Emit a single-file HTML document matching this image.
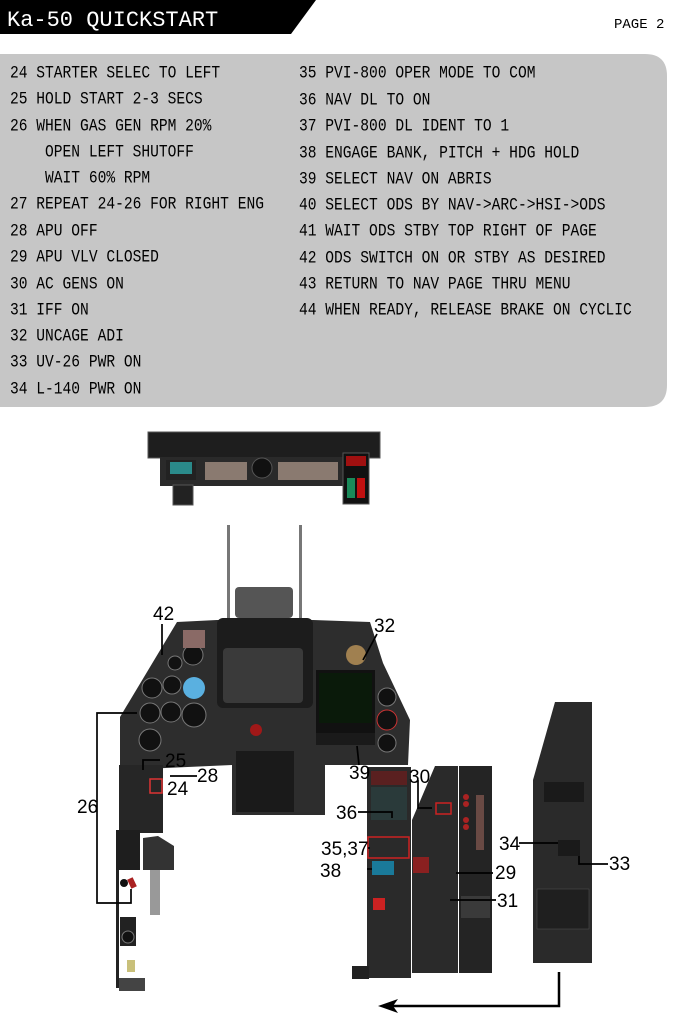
<!DOCTYPE html>
<html><head><meta charset="utf-8"><style>
html,body{margin:0;padding:0;background:#fff;width:683px;height:1024px;overflow:hidden}
.t{position:absolute;font-family:"Liberation Mono",monospace;font-size:14.6px;color:#000;white-space:pre;transform:scaleY(1.18);transform-origin:0 50%}
</style></head><body>
<div style="position:relative;width:683px;height:1024px">
<svg width="683" height="1024" style="position:absolute;left:0;top:0">
<polygon points="0,0 316,0 291,34 0,34" fill="#000"/>
<path d="M0,54 H645 Q667,54 667,76 V385 Q667,407 645,407 H0 Z" fill="#c6c6c6"/>
<text x="7" y="26" font-family="Liberation Mono,monospace" font-size="22" fill="#fff">Ka-50 QUICKSTART</text>
<text x="614" y="28" font-family="Liberation Mono,monospace" font-size="14" fill="#000">PAGE 2</text>

<!-- top panel -->
<rect x="148" y="432" width="232" height="26" fill="#1e1e1e" stroke="#555"/>
<rect x="160" y="457" width="185" height="29" fill="#2a2a2a"/>
<rect x="205" y="462" width="42" height="18" fill="#8a7a70"/>
<rect x="278" y="462" width="60" height="18" fill="#8a7a70"/>
<circle cx="262" cy="468" r="10" fill="#111" stroke="#555"/>
<rect x="166" y="460" width="30" height="20" fill="#222"/>
<rect x="170" y="462" width="22" height="12" fill="#2a8a8a"/>
<rect x="173" y="485" width="20" height="20" fill="#222" stroke="#555"/>
<rect x="343" y="453" width="26" height="51" fill="#111" stroke="#555"/>
<rect x="346" y="456" width="20" height="10" fill="#a01010"/>
<rect x="347" y="478" width="8" height="20" fill="#1a8a5a"/>
<rect x="357" y="478" width="8" height="20" fill="#c01010"/>

<!-- HUD rods -->
<rect x="227" y="525" width="3" height="95" fill="#777"/>
<rect x="299" y="525" width="3" height="95" fill="#777"/>
<rect x="235" y="587" width="58" height="31" fill="#555" rx="4"/>
<!-- main panel -->
<polygon points="177,622 217,620 313,620 370,622 383,663 410,720 408,765 325,765 325,815 232,815 232,765 120,770 120,717" fill="#2d2d2d"/>
<rect x="217" y="618" width="96" height="90" fill="#1c1c1c" rx="6"/>
<rect x="223" y="648" width="80" height="55" fill="#3a3a3a" rx="4"/>
<rect x="316" y="670" width="59" height="63" fill="#111"/>
<rect x="319" y="673" width="53" height="50" fill="#0a1a0a"/>
<rect x="316" y="733" width="59" height="12" fill="#1a1a1a"/>
<circle cx="356" cy="655" r="10" fill="#a08050"/>
<circle cx="194" cy="688" r="11" fill="#5ab0e0"/>
<circle cx="194" cy="715" r="12" fill="#111" stroke="#777"/>
<circle cx="152" cy="688" r="10" fill="#111" stroke="#777"/>
<circle cx="172" cy="685" r="9" fill="#111" stroke="#777"/>
<circle cx="150" cy="713" r="10" fill="#111" stroke="#777"/>
<circle cx="171" cy="712" r="10" fill="#111" stroke="#777"/>
<circle cx="150" cy="740" r="11" fill="#111" stroke="#777"/>
<circle cx="193" cy="655" r="10" fill="#111" stroke="#777"/>
<circle cx="175" cy="663" r="7" fill="#111" stroke="#777"/>
<circle cx="387" cy="697" r="9" fill="#111" stroke="#777"/>
<circle cx="387" cy="720" r="10" fill="#111" stroke="#c33"/>
<circle cx="387" cy="743" r="9" fill="#111" stroke="#777"/>
<rect x="236" y="751" width="58" height="61" fill="#1a1a1a"/>
<circle cx="256" cy="730" r="6" fill="#a01818"/>
<rect x="183" y="630" width="22" height="18" fill="#8a6a66"/>
<!-- left lower -->
<rect x="119" y="765" width="44" height="68" fill="#262626"/>
<rect x="150" y="779" width="12" height="14" fill="none" stroke="#d33" stroke-width="1.5"/>
<rect x="116" y="830" width="24" height="40" fill="#1e1e1e"/>
<rect x="116" y="870" width="3" height="118" fill="#222"/>
<polygon points="143,838 158,836 174,846 174,870 143,870" fill="#333"/>
<rect x="150" y="870" width="10" height="45" fill="#999"/>
<rect x="120" y="917" width="16" height="29" fill="#222"/>
<circle cx="128" cy="937" r="6" fill="#111" stroke="#777"/>
<rect x="119" y="978" width="26" height="13" fill="#444"/>
<rect x="127" y="960" width="8" height="12" fill="#c9c07a"/>
<circle cx="124" cy="883" r="4" fill="#111"/>
<rect x="129" y="878" width="6" height="10" fill="#a22" transform="rotate(-25 132 883)"/>
<!-- PVI -->
<rect x="367" y="767" width="44" height="211" fill="#2a2a2a"/>
<rect x="371" y="771" width="36" height="14" fill="#5a2020"/>
<rect x="371" y="787" width="36" height="33" fill="#2a3a3a"/>
<rect x="368" y="837" width="41" height="21" fill="none" stroke="#c22" stroke-width="1.5"/>
<rect x="372" y="861" width="22" height="14" fill="#1a7a9a"/>
<rect x="373" y="898" width="12" height="12" fill="#c22"/>
<rect x="352" y="966" width="17" height="13" fill="#222"/>
<polygon points="435,766 458,766 458,973 412,973 412,820" fill="#2a2a2a"/>
<rect x="436" y="803" width="15" height="11" fill="none" stroke="#c22" stroke-width="1.5"/>
<rect x="413" y="857" width="16" height="16" fill="#8a2020"/>
<rect x="459" y="766" width="33" height="207" fill="#242424"/>
<circle cx="466" cy="797" r="3" fill="#a22"/><circle cx="466" cy="804" r="3" fill="#a22"/>
<circle cx="466" cy="820" r="3" fill="#a22"/><circle cx="466" cy="827" r="3" fill="#a22"/>
<rect x="476" y="795" width="8" height="55" fill="#6a4a44"/>
<rect x="461" y="896" width="29" height="22" fill="#3a3a3a"/>
<!-- right panel -->
<polygon points="555,702 592,702 592,963 533,963 533,780" fill="#2a2a2a"/>
<rect x="544" y="782" width="40" height="20" fill="#1a1a1a"/>
<rect x="537" y="889" width="52" height="40" fill="#1f1f1f" stroke="#555" stroke-width="0.5"/>
<rect x="558" y="840" width="22" height="16" fill="#1a1a1a"/>

<!-- leaders -->
<g stroke="#000" stroke-width="1.7" fill="none">
<polyline points="137,713 97,713 97,903 131,903 131,889"/>
<line x1="162" y1="624" x2="162" y2="655"/>
<line x1="377" y1="634" x2="363" y2="660"/>
<line x1="359" y1="765" x2="357" y2="746"/>
<polyline points="160,760 143,760 143,770"/>
<line x1="197" y1="776" x2="170" y2="776"/>
<polyline points="358,812 392,812 392,818"/>
<line x1="370" y1="848" x2="368" y2="848"/>
<line x1="367" y1="869" x2="372" y2="869"/>
<polyline points="418,780 418,808 432,808"/>
<line x1="493" y1="873" x2="456" y2="873"/>
<line x1="496" y1="900" x2="450" y2="900"/>
<line x1="519" y1="843" x2="558" y2="843"/>
<polyline points="608,864 579,864 579,856"/>
</g>
<polyline points="559,972 559,1006 385,1006" stroke="#000" stroke-width="2.5" fill="none"/>
<polygon points="378,1006 398,999 393,1006 398,1013" fill="#000"/>
<g font-family="Liberation Sans,sans-serif" font-size="19" fill="#000">
<text x="153" y="620">42</text><text x="374" y="632">32</text><text x="349" y="779">39</text>
<text x="165" y="767">25</text><text x="197" y="782">28</text><text x="167" y="795">24</text>
<text x="77" y="813">26</text><text x="409" y="783">30</text><text x="336" y="819">36</text>
<text x="321" y="855">35,37</text><text x="320" y="877">38</text><text x="495" y="879">29</text>
<text x="497" y="907">31</text><text x="499" y="850">34</text><text x="609" y="870">33</text>
</g>
</svg>
<div class="t" style="left:10px;top:66px">24 STARTER SELEC TO LEFT</div>
<div class="t" style="left:10px;top:92px">25 HOLD START 2-3 SECS</div>
<div class="t" style="left:10px;top:119px">26 WHEN GAS GEN RPM 20%</div>
<div class="t" style="left:10px;top:145px">    OPEN LEFT SHUTOFF</div>
<div class="t" style="left:10px;top:171px">    WAIT 60% RPM</div>
<div class="t" style="left:10px;top:197px">27 REPEAT 24-26 FOR RIGHT ENG</div>
<div class="t" style="left:10px;top:224px">28 APU OFF</div>
<div class="t" style="left:10px;top:250px">29 APU VLV CLOSED</div>
<div class="t" style="left:10px;top:277px">30 AC GENS ON</div>
<div class="t" style="left:10px;top:303px">31 IFF ON</div>
<div class="t" style="left:10px;top:329px">32 UNCAGE ADI</div>
<div class="t" style="left:10px;top:355px">33 UV-26 PWR ON</div>
<div class="t" style="left:10px;top:382px">34 L-140 PWR ON</div>
<div class="t" style="left:299px;top:66px">35 PVI-800 OPER MODE TO COM</div>
<div class="t" style="left:299px;top:93px">36 NAV DL TO ON</div>
<div class="t" style="left:299px;top:119px">37 PVI-800 DL IDENT TO 1</div>
<div class="t" style="left:299px;top:146px">38 ENGAGE BANK, PITCH + HDG HOLD</div>
<div class="t" style="left:299px;top:172px">39 SELECT NAV ON ABRIS</div>
<div class="t" style="left:299px;top:198px">40 SELECT ODS BY NAV-&gt;ARC-&gt;HSI-&gt;ODS</div>
<div class="t" style="left:299px;top:224px">41 WAIT ODS STBY TOP RIGHT OF PAGE</div>
<div class="t" style="left:299px;top:251px">42 ODS SWITCH ON OR STBY AS DESIRED</div>
<div class="t" style="left:299px;top:277px">43 RETURN TO NAV PAGE THRU MENU</div>
<div class="t" style="left:299px;top:303px">44 WHEN READY, RELEASE BRAKE ON CYCLIC</div>
</div>
</body></html>
